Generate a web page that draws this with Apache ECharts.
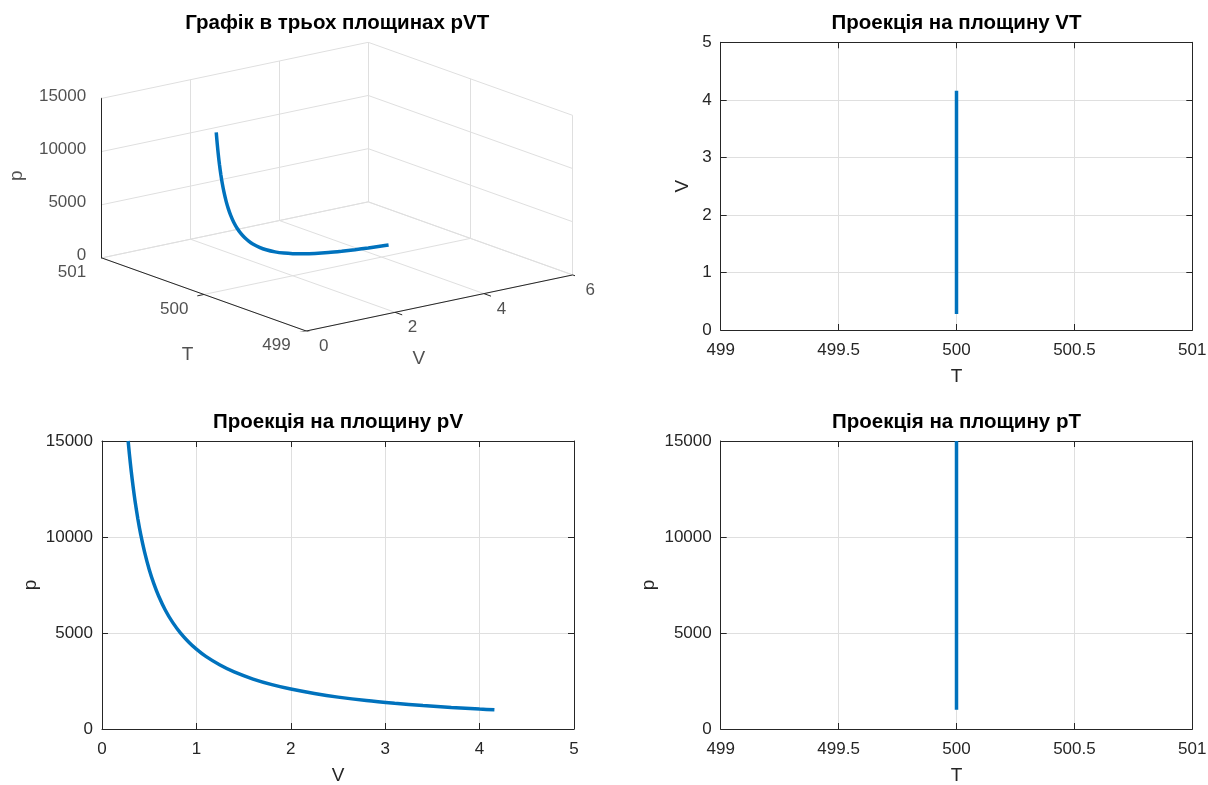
<!DOCTYPE html>
<html><head><meta charset="utf-8">
<script src="https://cdn.jsdelivr.net/npm/echarts@6/dist/echarts.min.js"></script>
<style>html,body{margin:0;padding:0;background:#fff}#c{width:1208px;height:785px}</style>
</head><body><div id="c"></div><script>
// ---- data ----
const V = [0.277, 0.29, 0.31, 0.33, 0.35, 0.38, 0.41, 0.45, 0.5, 0.55, 0.6, 0.67, 0.75, 0.83, 0.92, 1.0, 1.1, 1.25, 1.4, 1.6, 1.8, 2.0, 2.25, 2.5, 2.8, 3.1, 3.4, 3.7, 4.0, 4.157];
const P = [15000, 14330, 13410, 12600, 11880, 10940, 10140, 9240, 8310, 7560, 6930, 6200, 5540, 5010, 4520, 4160, 3780, 3330, 2970, 2600, 2310, 2080, 1850, 1660, 1480, 1340, 1220, 1120, 1040, 1000];
const T = [500, 500, 500, 500, 500, 500, 500, 500, 500, 500, 500, 500, 500, 500, 500, 500, 500, 500, 500, 500, 500, 500, 500, 500, 500, 500, 500, 500, 500, 500];

const vTicks3D = [0, 2, 4, 6];
const tTicks3D = [499, 500, 501];
const pTicks3D = [0, 5000, 10000, 15000];

const titles = ['Графік в трьох площинах pVT', 'Проекція на площину VT', 'Проекція на площину pV', 'Проекція на площину pT'];

// ---- styling ----
const FONT = '"Liberation Sans", Arial, Helvetica, sans-serif';
const AX = '#262626';
const GRID = '#dfdfdf';
const LINE = '#0072BD';

// ---- 3D view (MATLAB default az=-37.5, el=30) ----
const az = -37.5 * Math.PI / 180, el = 30 * Math.PI / 180;
const ca = Math.cos(az), sa = Math.sin(az), se = Math.sin(el), ce = Math.cos(el);
const vR = [vTicks3D[0], vTicks3D[vTicks3D.length - 1]];
const tR = [tTicks3D[0], tTicks3D[tTicks3D.length - 1]];
const pR = [pTicks3D[0], pTicks3D[pTicks3D.length - 1]];
function proj(v, t, p) {
  const xn = (v - vR[0]) / (vR[1] - vR[0]);
  const yn = (t - tR[0]) / (tR[1] - tR[0]);
  const zn = (p - pR[0]) / (pR[1] - pR[0]);
  return [ca * xn + sa * yn, -se * sa * xn + se * ca * yn + ce * zn];
}
const sxMin = sa, sxMax = ca, syMin = 0, syMax = -se * sa + se * ca + ce;

const gridLines = [], axisLines = [], labels = [];
function seg(arr, a, b) { arr.push({ coords: [proj(a[0], a[1], a[2]), proj(b[0], b[1], b[2])] }); }
// back wall T = max
vTicks3D.forEach(v => seg(gridLines, [v, tR[1], pR[0]], [v, tR[1], pR[1]]));
pTicks3D.forEach(p => seg(gridLines, [vR[0], tR[1], p], [vR[1], tR[1], p]));
// back wall V = max
tTicks3D.forEach(t => seg(gridLines, [vR[1], t, pR[0]], [vR[1], t, pR[1]]));
pTicks3D.forEach(p => seg(gridLines, [vR[1], tR[0], p], [vR[1], tR[1], p]));
// floor
vTicks3D.forEach(v => seg(gridLines, [v, tR[0], pR[0]], [v, tR[1], pR[0]]));
tTicks3D.forEach(t => seg(gridLines, [vR[0], t, pR[0]], [vR[1], t, pR[0]]));
// axes
seg(axisLines, [vR[0], tR[1], pR[0]], [vR[0], tR[1], pR[1]]);
seg(axisLines, [vR[0], tR[0], pR[0]], [vR[0], tR[1], pR[0]]);
seg(axisLines, [vR[0], tR[0], pR[0]], [vR[1], tR[0], pR[0]]);
const tTickLen = 0.07 * (tR[1] - tR[0]) / 2, vTickLen = 0.15 * (vR[1] - vR[0]) / 6;
pTicks3D.forEach(p => {
  seg(axisLines, [vR[0], tR[1], p], [vR[0], tR[1] + tTickLen, p]);
  labels.push({ value: proj(vR[0], tR[1], p), label: { formatter: String(p), position: [-15, -2], align: 'right' } });
});
tTicks3D.forEach(t => {
  seg(axisLines, [vR[0], t, pR[0]], [vR[0] - vTickLen, t, pR[0]]);
  labels.push({ value: proj(vR[0], t, pR[0]), label: { formatter: String(t), position: [-15, 15], align: 'right' } });
});
vTicks3D.forEach(v => {
  seg(axisLines, [v, tR[0], pR[0]], [v, tR[0] - tTickLen, pR[0]]);
  labels.push({ value: proj(v, tR[0], pR[0]), label: { formatter: String(v), position: [18, 16], align: 'center' } });
});
// axis names
labels.push({ value: proj(vR[0], (tR[0] + tR[1]) / 2, pR[0]), label: { formatter: 'T', position: [-16, 61], align: 'center', fontSize: 19 } });
labels.push({ value: proj((vR[0] + vR[1]) / 2, tR[0], pR[0]), label: { formatter: 'V', position: [-20, 56], align: 'center', fontSize: 19 } });
labels.push({ value: proj(vR[0], tR[1], (pR[0] + pR[1]) / 2), label: { formatter: 'p', position: [-84, -2], align: 'center', fontSize: 19, rotate: 90 } });

const curve3D = V.map((v, i) => proj(v, T[i], P[i]));

// ---- 2D axes helpers ----
const grids = [
  { left: 101.7, top: 42.3, width: 471, height: 288.7 },
  { left: 720.7, top: 42.3, width: 471.6, height: 287.7 },
  { left: 102, top: 441, width: 472, height: 288 },
  { left: 720.7, top: 441, width: 471.6, height: 288 }
];
grids.forEach(g => g.outerBoundsMode = 'none');

const xAxes = [{ gridIndex: 0, type: 'value', show: false, min: sxMin, max: sxMax }];
const yAxes = [{ gridIndex: 0, type: 'value', show: false, min: syMin, max: syMax }];

function mainAxis(gi, min, max, interval, pos, name, nameGap) {
  return {
    gridIndex: gi, type: 'value', min, max, interval, position: pos,
    axisLine: { show: true, onZero: false, lineStyle: { color: AX, width: 1 } },
    axisTick: { show: true, inside: true, length: 6, lineStyle: { color: AX, width: 1 } },
    axisLabel: { show: true, color: AX, fontSize: 17, fontFamily: FONT, margin: pos === 'bottom' ? 12 : 9,
      showMinLabel: true, showMaxLabel: true, hideOverlap: false, formatter: v => String(v) },
    splitLine: { show: true, lineStyle: { color: GRID, width: 1 } },
    name, nameLocation: 'middle', nameGap, nameRotate: pos === 'left' ? 90 : 0,
    nameTextStyle: { color: AX, fontSize: 19, fontFamily: FONT }
  };
}
function boxAxis(gi, min, max, interval, pos) {
  return {
    gridIndex: gi, type: 'value', min, max, interval, position: pos,
    axisLine: { show: true, onZero: false, lineStyle: { color: AX, width: 1 } },
    axisTick: { show: true, inside: true, length: 6, lineStyle: { color: AX, width: 1 } },
    axisLabel: { show: false }, splitLine: { show: false }
  };
}
function add2D(gi, x, y) {
  xAxes.push(mainAxis(gi, x[0], x[1], x[2], 'bottom', x[3], 37), boxAxis(gi, x[0], x[1], x[2], 'top'));
  yAxes.push(mainAxis(gi, y[0], y[1], y[2], 'left', y[3], y[4]), boxAxis(gi, y[0], y[1], y[2], 'right'));
}
add2D(1, [499, 501, 0.5, 'T'], [0, 5, 1, 'V', 28]);
add2D(2, [0, 5, 1, 'V'], [0, 15000, 5000, 'p', 62]);
add2D(3, [499, 501, 0.5, 'T'], [0, 15000, 5000, 'p', 62]);

function lineSeries(xi, data) {
  return { type: 'line', xAxisIndex: xi, yAxisIndex: xi, data, showSymbol: false, smooth: 0.25,
    lineStyle: { color: LINE, width: 3.5 }, itemStyle: { color: LINE }, z: 5, silent: true };
}

const option = {
  animation: false,
  backgroundColor: '#fff',
  textStyle: { fontFamily: FONT },
  title: titles.map((t, i) => ({
    text: t, left: grids[i].left + grids[i].width / 2, top: i < 2 ? 13 : 412, textAlign: 'center', padding: 0,
    textStyle: { fontSize: 20.5, fontWeight: 'bold', color: '#000', fontFamily: FONT }
  })),
  grid: grids,
  xAxis: xAxes,
  yAxis: yAxes,
  series: [
    { type: 'lines', coordinateSystem: 'cartesian2d', xAxisIndex: 0, yAxisIndex: 0, data: gridLines, silent: true,
      lineStyle: { color: GRID, width: 1, opacity: 1 }, z: 1 },
    { type: 'lines', coordinateSystem: 'cartesian2d', xAxisIndex: 0, yAxisIndex: 0, data: axisLines, silent: true,
      lineStyle: { color: AX, width: 1, opacity: 1 }, z: 2 },
    lineSeries(0, curve3D),
    { type: 'scatter', xAxisIndex: 0, yAxisIndex: 0, data: labels, symbolSize: 1, silent: true,
      itemStyle: { color: 'rgba(0,0,0,0)' },
      label: { show: true, color: AX, fontSize: 17, fontFamily: FONT, verticalAlign: 'middle' }, z: 6 },
    lineSeries(1, T.map((t, i) => [t, V[i]])),
    lineSeries(3, V.map((v, i) => [v, P[i]])),
    lineSeries(5, T.map((t, i) => [t, P[i]]))
  ]
};
const chart = echarts.init(document.getElementById('c'), null, { renderer: 'canvas' });
chart.setOption(option);
</script></body></html>
